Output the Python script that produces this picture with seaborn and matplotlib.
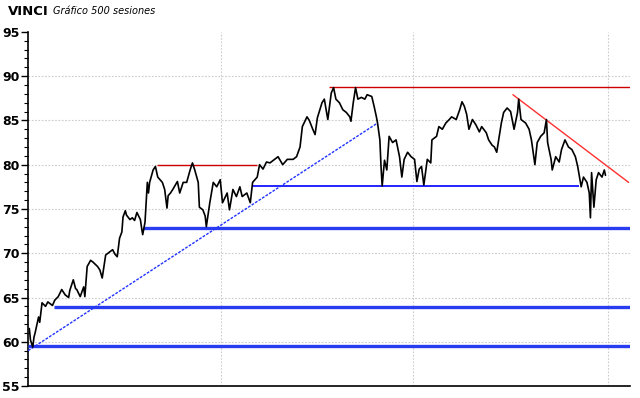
import numpy as np
import pandas as pd
import matplotlib
matplotlib.use("Agg")
import matplotlib.pyplot as plt
import seaborn as sns

# ========== datos (sesión, precio) ==========
sesiones = [0, 1, 3, 4, 5, 8, 9, 11, 14, 16, 20, 22, 25, 28, 31, 34, 35, 38, 40, 41,
            44, 47, 48, 50, 53, 55, 59, 61, 63, 66, 68, 70, 72, 74, 76, 78, 80, 81, 83, 84,
            87, 89, 91, 93, 96, 97, 98, 100, 102, 103, 104, 107, 109, 111, 115, 117, 119, 120, 122, 124,
            128, 130, 133, 136, 139, 141, 143, 146, 147, 150, 152, 153, 156, 159, 162, 165, 167, 171, 173, 176,
            179, 182, 184, 188, 191, 193, 197, 199, 202, 205, 208, 210, 215, 219, 223, 228, 231, 234, 236, 240,
            242, 245, 247, 249, 253, 255, 258, 261, 263, 265, 268, 271, 274, 277, 278, 280, 282, 284, 287, 290,
            292, 296, 298, 300, 301, 303, 304, 305, 307, 309, 311, 314, 317, 320, 322, 324, 327, 330, 333, 335,
            337, 339, 341, 344, 347, 348, 352, 354, 357, 360, 363, 365, 369, 372, 374, 376, 378, 380, 383, 386,
            389, 391, 395, 397, 400, 402, 404, 408, 410, 413, 416, 419, 422, 423, 425, 429, 432, 434, 437, 439,
            442, 445, 447, 448, 451, 452, 455, 458, 460, 463, 466, 469, 472, 474, 477, 479, 482, 484, 485, 486,
            488, 490, 492, 495, 497, 498]
precios = [61.5, 60.2, 59.4, 60.5, 61.0, 62.8, 62.2, 64.4, 64.0, 64.5, 64.1, 64.7, 65.1, 65.9, 65.3, 65.0, 65.8, 67.0, 66.0, 65.9,
           65.1, 66.2, 65.1, 68.5, 69.2, 69.0, 68.5, 68.1, 67.2, 69.8, 70.0, 70.2, 70.4, 69.9, 69.6, 71.7, 72.4, 74.1, 74.8, 74.3,
           73.8, 74.0, 73.7, 74.6, 73.8, 72.9, 72.1, 73.5, 78.0, 76.8, 78.0, 79.4, 79.8, 78.6, 78.0, 77.2, 75.1, 76.5, 76.8, 77.2,
           78.1, 76.8, 78.0, 78.0, 79.4, 80.2, 79.4, 78.0, 75.2, 74.9, 74.2, 73.0, 75.7, 78.0, 77.5, 78.3, 75.7, 76.8, 74.9, 77.2,
           76.4, 77.5, 76.4, 76.8, 75.7, 78.0, 78.6, 80.0, 79.5, 80.3, 80.2, 80.4, 80.9, 80.0, 80.6, 80.6, 80.9, 82.0, 84.3, 85.4,
           85.0, 84.0, 83.4, 85.3, 87.0, 87.4, 85.1, 88.1, 88.7, 87.4, 87.0, 86.2, 85.9, 85.4, 84.9, 87.0, 88.7, 87.4, 87.6, 87.4,
           87.9, 87.7, 86.6, 85.4, 84.7, 82.8, 79.8, 77.6, 80.5, 79.4, 83.2, 82.5, 82.8, 80.9, 78.6, 80.6, 81.4, 80.9, 80.6, 78.1,
           79.5, 79.8, 77.7, 80.6, 80.2, 82.8, 83.2, 84.3, 84.0, 84.7, 85.1, 85.4, 85.1, 86.2, 87.1, 86.6, 85.7, 84.0, 85.1, 84.5,
           83.7, 84.3, 83.6, 82.8, 82.2, 82.0, 81.4, 84.7, 85.9, 86.4, 86.0, 84.0, 85.9, 87.4, 85.1, 84.7, 84.0, 82.8, 80.0, 82.5,
           83.2, 83.6, 85.1, 82.5, 80.6, 79.4, 80.9, 80.3, 81.7, 82.8, 82.0, 81.7, 80.9, 79.8, 77.5, 78.6, 78.0, 76.8, 74.0, 79.1,
           75.2, 78.3, 79.1, 78.6, 79.4, 78.8]

# soportes (azul grueso): nivel y sesión de inicio
soportes = [59.5, 63.9, 72.8]
soportes_inicio = [-1, 21, 98]
# resistencias (rojo fino): nivel, inicio, fin
resistencias = [80.0, 88.8]
resist_inicio = [110, 259]
resist_fin = [197, 519]
# soporte fino azul
soporte_fino = 77.6
soporte_fino_tramo = [193, 475]
# directrices: (sesión, precio) de inicio y fin
directriz_alcista = [(-1, 59.0), (301, 84.7)]
directriz_bajista = [(418, 87.9), (518, 78.0)]
# líneas verticales de la rejilla (sesiones)
rejilla_x = [165.5, 332, 500]

df = pd.DataFrame({'sesion': sesiones, 'precio': precios})

sns.set_style("white")
plt.rcParams['font.family'] = ['DejaVu Sans']
plt.rcParams['text.color'] = 'black'
plt.rcParams['ytick.color'] = 'black'

fig = plt.figure(figsize=(6.4, 3.98), dpi=100)
ax = fig.add_axes([0.044, 0.030, 0.940, 0.890])

# rejilla
for yv in range(60, 95, 5):
    ax.axhline(yv, color='#cccccc', lw=0.8, ls=(0, (1.5, 1.5)), zorder=0)
for xv in rejilla_x:
    ax.axvline(xv, color='#cccccc', lw=0.8, ls=(0, (1.5, 1.5)), zorder=0)

# precio
sns.lineplot(data=df, x='sesion', y='precio', color='black', lw=1.2, ax=ax, zorder=5)

# soportes y resistencias
for nivel, ini in zip(soportes, soportes_inicio):
    ax.hlines(nivel, ini, 519, color='#2a3cf0', lw=2.4, zorder=4)
ax.hlines(soporte_fino, soporte_fino_tramo[0], soporte_fino_tramo[1], color='#0000ff', lw=1.2, zorder=4)
for nivel, ini, fin in zip(resistencias, resist_inicio, resist_fin):
    ax.hlines(nivel, ini, fin, color='#cc0000', lw=1.0, zorder=4)

(x0, y0), (x1, y1) = directriz_alcista
ax.plot([x0, x1], [y0, y1], color='#2233ff', lw=1.0, ls=(0, (2, 1)), zorder=4)
(x0, y0), (x1, y1) = directriz_bajista
ax.plot([x0, x1], [y0, y1], color='#ff3030', lw=1.0, zorder=4)

ax.set_xlim(-1, 519)
ax.set_ylim(55, 95)
ax.set_yticks(range(55, 100, 5))
ax.set_yticks(range(55, 96), minor=True)
ax.set_xticks([])
ax.tick_params(axis='y', which='major', length=5, width=1, direction='out', left=True,
               labelsize=9, pad=1, colors='black')
ax.tick_params(axis='y', which='minor', length=3, width=0.8, direction='out', left=True, colors='black')
for lbl in ax.get_yticklabels():
    lbl.set_fontweight('bold')
ax.set_xlabel('')
ax.set_ylabel('')
sns.despine(ax=ax, top=True, right=True)
ax.spines['left'].set_color('black')
ax.spines['bottom'].set_color('black')
ax.spines['left'].set_linewidth(1.2)
ax.spines['bottom'].set_linewidth(1.2)

fig.text(0.012, 0.972, 'VINCI', fontsize=9.5, fontweight='bold', va='center', ha='left', color='black')
fig.text(0.083, 0.972, 'Gráfico 500 sesiones', fontsize=7, fontstyle='italic', va='center', ha='left',
         color='black')

fig.savefig('out.png', dpi=100)
